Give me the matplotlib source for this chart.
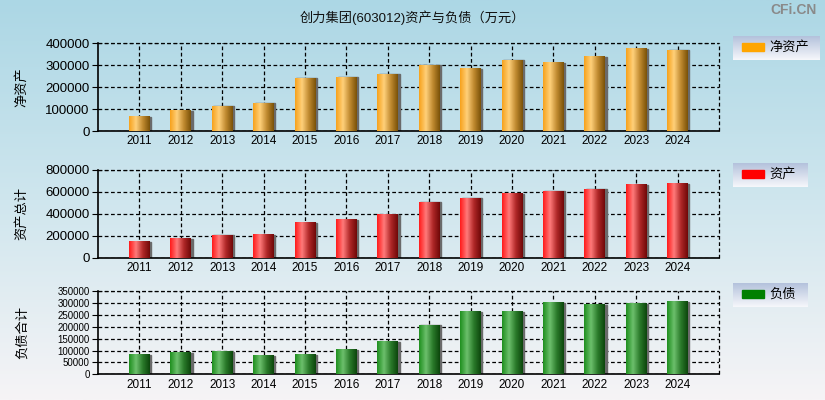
import matplotlib
matplotlib.use("Agg")
import matplotlib.pyplot as plt
import numpy as np
from matplotlib.colors import LinearSegmentedColormap
from matplotlib.patches import Rectangle

plt.rcParams["font.family"] = ["Liberation Sans", "Noto Sans CJK SC"]

years = list(range(2011, 2025))
net_assets = [64000, 91000, 112000, 127000, 240000, 245000, 259000,
              300000, 283000, 322000, 310000, 337000, 373000, 366000]
total_assets = [147000, 175000, 207000, 210000, 320000, 350000, 395000,
                509000, 545000, 585000, 609000, 627000, 664000, 673000]
liabilities = [80700, 89000, 94500, 76500, 80700, 101600, 135000,
               205000, 260000, 260000, 298000, 290000, 295000, 305000]

panels = [
    ("净资产", net_assets, "净资产", "#ffa500",
     ["#f7a21c", "#ffd07a", "#c08a30", "#7a5208"], 400000, 100000, 9.5),
    ("资产总计", total_assets, "资产", "#ff0000",
     ["#ff1a1a", "#ff7a7a", "#b02828", "#700808"], 800000, 200000, 9.5),
    ("负债合计", liabilities, "负债", "#008000",
     ["#1f8f1f", "#6cbf6c", "#2a7a2a", "#0c460c"], 350000, 50000, 7),
]

fig = plt.figure(figsize=(8.25, 4), dpi=100)

# background gradient
bg = fig.add_axes([0, 0, 1, 1], zorder=-10)
bgcmap = LinearSegmentedColormap.from_list("bg", ["#acd7e5", "#cfe6ee", "#f6f4f6"])
bg.imshow(np.linspace(0, 1, 256).reshape(-1, 1), aspect="auto", cmap=bgcmap,
          extent=[0, 1, 0, 1])
bg.axis("off")

fig.text(0.5, 0.955, "创力集团(603012)资产与负债（万元）", ha="center", va="center",
         fontsize=9.5, color="#111")
fig.text(0.99, 0.975, "CFi.CN", ha="right", va="center", fontsize=10,
         fontweight="bold", color="#8a8a8a")

boxes = [(0.6725, 0.22), (0.355, 0.22), (0.064, 0.209)]
legend_pos = [(733, 36, 87), (733, 163, 75), (733, 283, 75)]

leg_cmap = LinearSegmentedColormap.from_list("leg", ["#b4c2dc", "#f6f7fb"])
width = 0.5
dash = (0, (3, 2))

for (ylab, vals, legname, legcolor, grad, ymax, ystep, tfs), (b, h), (lx, ly, lw) in zip(
        panels, boxes, legend_pos):
    ax = fig.add_axes([0.1188, b, 0.7527, h])
    ax.patch.set_alpha(0)
    cmap = LinearSegmentedColormap.from_list("g", grad)
    grad_img = np.linspace(0, 1, 64).reshape(1, -1)
    for x, v in zip(years, vals):
        # shadow on the right side
        ax.add_patch(Rectangle((x - width / 2 + 0.035, 0), width, v,
                               color="#6a6a6a", zorder=2))
        ax.imshow(grad_img, cmap=cmap, aspect="auto", zorder=3,
                  extent=[x - width / 2, x + width / 2, 0, v])
    ax.set_xlim(2010, 2025)
    ax.set_ylim(0, ymax)
    ax.set_xticks(years)
    ax.set_xticklabels([str(y) for y in years], fontsize=8.5)
    ax.set_yticks(np.arange(0, ymax + 1, ystep))
    ax.set_yticklabels([str(int(t)) for t in np.arange(0, ymax + 1, ystep)],
                       fontsize=tfs)
    ax.grid(True, color="black", linestyle=dash, linewidth=0.9, zorder=1)
    ax.axvline(2025, color="black", linestyle=dash, linewidth=0.9, zorder=1,
               clip_on=False)
    ax.axhline(ymax, color="black", linestyle=dash, linewidth=0.9, zorder=1,
               clip_on=False)
    ax.set_axisbelow(True)
    for s in ("top", "right"):
        ax.spines[s].set_visible(False)
    ax.spines["left"].set_linewidth(1.2)
    ax.spines["bottom"].set_linewidth(1.2)
    ax.tick_params(axis="x", length=0, pad=3)
    ax.tick_params(axis="y", length=4, pad=2)
    ax.set_ylabel(ylab, fontsize=9.5)
    ax.yaxis.set_label_coords(-0.112, 0.5)

    # legend box
    lax = fig.add_axes([lx / 825, 1 - (ly + 24) / 400, lw / 825, 24 / 400])
    lax.imshow(np.linspace(0, 1, 64).reshape(-1, 1), aspect="auto", cmap=leg_cmap,
               extent=[0, lw, 0, 24])
    lax.add_patch(Rectangle((9, 9), 22, 8, color=legcolor))
    lax.text(36, 13, legname, fontsize=9.5, va="center", ha="left")
    lax.set_xlim(0, lw)
    lax.set_ylim(0, 24)
    lax.axis("off")

fig.savefig("out.png", dpi=100)
